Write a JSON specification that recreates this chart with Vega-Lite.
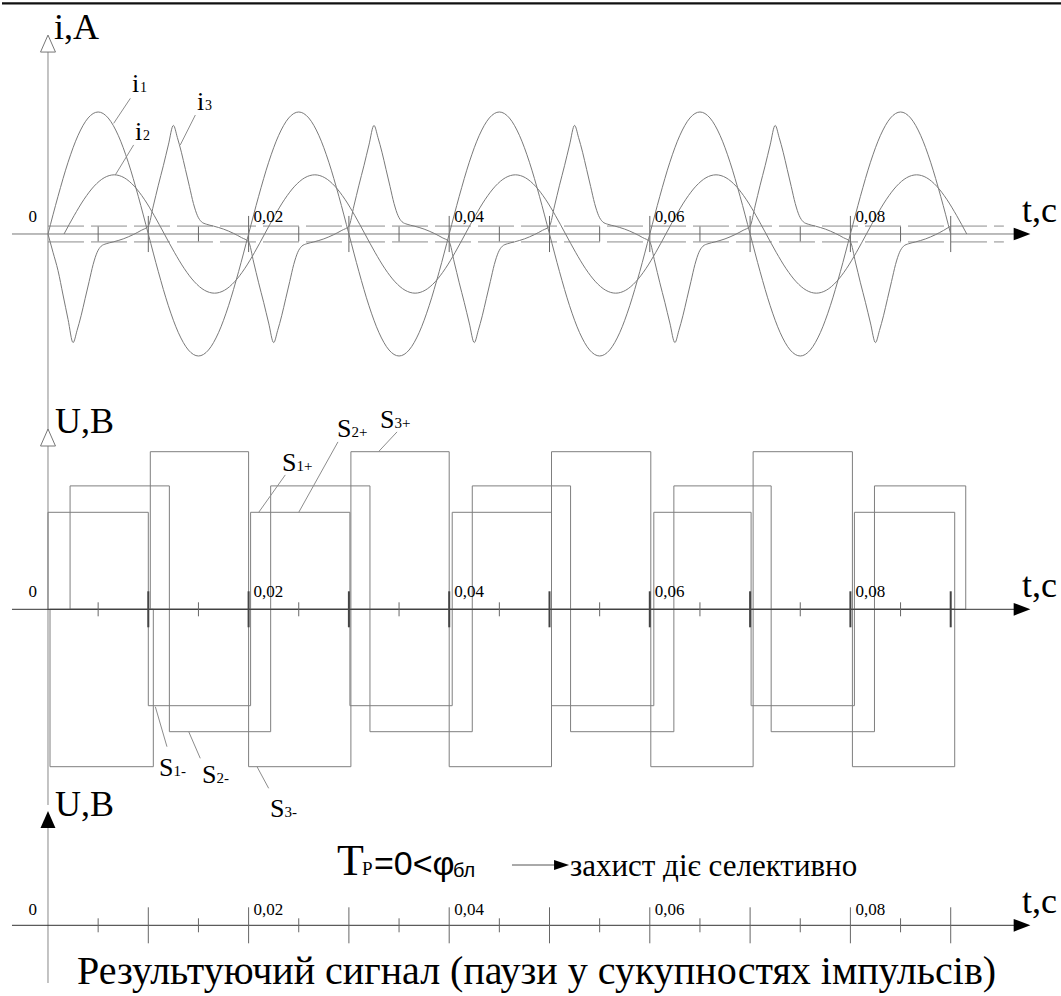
{
  "$schema": "https://vega.github.io/schema/vega-lite/v6.json",
  "padding": 0,
  "spacing": 0,
  "bounds": "flush",
  "background": "white",
  "config": {"view": {"stroke": null}, "axis": {"disable": true}},
  "datasets": {
    "i1": [
      {"t":0,"v":0},{"t":0.001,"v":3.09},{"t":0.002,"v":5.88},{"t":0.003,"v":8.09},{"t":0.004,"v":9.51},{"t":0.005,"v":10},{"t":0.006,"v":9.51},{"t":0.007,"v":8.09},{"t":0.008,"v":5.88},{"t":0.009,"v":3.09},
      {"t":0.01,"v":0},{"t":0.011,"v":-3.09},{"t":0.012,"v":-5.88},{"t":0.013,"v":-8.09},{"t":0.014,"v":-9.51},{"t":0.015,"v":-10},{"t":0.016,"v":-9.51},{"t":0.017,"v":-8.09},{"t":0.018,"v":-5.88},{"t":0.019,"v":-3.09},
      {"t":0.02,"v":0},{"t":0.021,"v":3.09},{"t":0.022,"v":5.88},{"t":0.023,"v":8.09},{"t":0.024,"v":9.51},{"t":0.025,"v":10},{"t":0.026,"v":9.51},{"t":0.027,"v":8.09},{"t":0.028,"v":5.88},{"t":0.029,"v":3.09},
      {"t":0.03,"v":0},{"t":0.031,"v":-3.09},{"t":0.032,"v":-5.88},{"t":0.033,"v":-8.09},{"t":0.034,"v":-9.51},{"t":0.035,"v":-10},{"t":0.036,"v":-9.51},{"t":0.037,"v":-8.09},{"t":0.038,"v":-5.88},{"t":0.039,"v":-3.09},
      {"t":0.04,"v":0},{"t":0.041,"v":3.09},{"t":0.042,"v":5.88},{"t":0.043,"v":8.09},{"t":0.044,"v":9.51},{"t":0.045,"v":10},{"t":0.046,"v":9.51},{"t":0.047,"v":8.09},{"t":0.048,"v":5.88},{"t":0.049,"v":3.09},
      {"t":0.05,"v":0},{"t":0.051,"v":-3.09},{"t":0.052,"v":-5.88},{"t":0.053,"v":-8.09},{"t":0.054,"v":-9.51},{"t":0.055,"v":-10},{"t":0.056,"v":-9.51},{"t":0.057,"v":-8.09},{"t":0.058,"v":-5.88},{"t":0.059,"v":-3.09},
      {"t":0.06,"v":0},{"t":0.061,"v":3.09},{"t":0.062,"v":5.88},{"t":0.063,"v":8.09},{"t":0.064,"v":9.51},{"t":0.065,"v":10},{"t":0.066,"v":9.51},{"t":0.067,"v":8.09},{"t":0.068,"v":5.88},{"t":0.069,"v":3.09},
      {"t":0.07,"v":0},{"t":0.071,"v":-3.09},{"t":0.072,"v":-5.88},{"t":0.073,"v":-8.09},{"t":0.074,"v":-9.51},{"t":0.075,"v":-10},{"t":0.076,"v":-9.51},{"t":0.077,"v":-8.09},{"t":0.078,"v":-5.88},{"t":0.079,"v":-3.09},
      {"t":0.08,"v":0},{"t":0.081,"v":3.09},{"t":0.082,"v":5.88},{"t":0.083,"v":8.09},{"t":0.084,"v":9.51},{"t":0.085,"v":10},{"t":0.086,"v":9.51},{"t":0.087,"v":8.09},{"t":0.088,"v":5.88},{"t":0.089,"v":3.09},
      {"t":0.09,"v":0}
    ],
    "i2": [
      {"t":0.0016,"v":0},{"t":0.0026,"v":1.5},{"t":0.0036,"v":2.85},{"t":0.0046,"v":3.92},{"t":0.0056,"v":4.61},{"t":0.0066,"v":4.85},{"t":0.0076,"v":4.61},{"t":0.0086,"v":3.92},{"t":0.0096,"v":2.85},{"t":0.0106,"v":1.5},
      {"t":0.0116,"v":0},{"t":0.0126,"v":-1.5},{"t":0.0136,"v":-2.85},{"t":0.0146,"v":-3.92},{"t":0.0156,"v":-4.61},{"t":0.0166,"v":-4.85},{"t":0.0176,"v":-4.61},{"t":0.0186,"v":-3.92},{"t":0.0196,"v":-2.85},{"t":0.0206,"v":-1.5},
      {"t":0.0216,"v":0},{"t":0.0226,"v":1.5},{"t":0.0236,"v":2.85},{"t":0.0246,"v":3.92},{"t":0.0256,"v":4.61},{"t":0.0266,"v":4.85},{"t":0.0276,"v":4.61},{"t":0.0286,"v":3.92},{"t":0.0296,"v":2.85},{"t":0.0306,"v":1.5},
      {"t":0.0316,"v":0},{"t":0.0326,"v":-1.5},{"t":0.0336,"v":-2.85},{"t":0.0346,"v":-3.92},{"t":0.0356,"v":-4.61},{"t":0.0366,"v":-4.85},{"t":0.0376,"v":-4.61},{"t":0.0386,"v":-3.92},{"t":0.0396,"v":-2.85},{"t":0.0406,"v":-1.5},
      {"t":0.0416,"v":0},{"t":0.0426,"v":1.5},{"t":0.0436,"v":2.85},{"t":0.0446,"v":3.92},{"t":0.0456,"v":4.61},{"t":0.0466,"v":4.85},{"t":0.0476,"v":4.61},{"t":0.0486,"v":3.92},{"t":0.0496,"v":2.85},{"t":0.0506,"v":1.5},
      {"t":0.0516,"v":0},{"t":0.0526,"v":-1.5},{"t":0.0536,"v":-2.85},{"t":0.0546,"v":-3.92},{"t":0.0556,"v":-4.61},{"t":0.0566,"v":-4.85},{"t":0.0576,"v":-4.61},{"t":0.0586,"v":-3.92},{"t":0.0596,"v":-2.85},{"t":0.0606,"v":-1.5},
      {"t":0.0616,"v":0},{"t":0.0626,"v":1.5},{"t":0.0636,"v":2.85},{"t":0.0646,"v":3.92},{"t":0.0656,"v":4.61},{"t":0.0666,"v":4.85},{"t":0.0676,"v":4.61},{"t":0.0686,"v":3.92},{"t":0.0696,"v":2.85},{"t":0.0706,"v":1.5},
      {"t":0.0716,"v":0},{"t":0.0726,"v":-1.5},{"t":0.0736,"v":-2.85},{"t":0.0746,"v":-3.92},{"t":0.0756,"v":-4.61},{"t":0.0766,"v":-4.85},{"t":0.0776,"v":-4.61},{"t":0.0786,"v":-3.92},{"t":0.0796,"v":-2.85},{"t":0.0806,"v":-1.5},
      {"t":0.0816,"v":0},{"t":0.0826,"v":1.5},{"t":0.0836,"v":2.85},{"t":0.0846,"v":3.92},{"t":0.0856,"v":4.61},{"t":0.0866,"v":4.85},{"t":0.0876,"v":4.61},{"t":0.0886,"v":3.92},{"t":0.0896,"v":2.85},{"t":0.0906,"v":1.5},
      {"t":0.0916,"v":0}
    ],
    "i3": [
      {"t":0,"v":0},{"t":0.0005,"v":-1.5},{"t":0.001,"v":-3.0},{"t":0.0015,"v":-5.0},{"t":0.002,"v":-7.0},{"t":0.0025,"v":-8.9},{"t":0.0029,"v":-7.9},{"t":0.0033,"v":-6.7},{"t":0.0037,"v":-5.3},{"t":0.0041,"v":-3.9},{"t":0.0045,"v":-2.5},{"t":0.0049,"v":-1.5},{"t":0.0053,"v":-1.0},{"t":0.0058,"v":-0.8},{"t":0.0065,"v":-0.65},{"t":0.0075,"v":-0.4},{"t":0.0085,"v":-0.05},{"t":0.0093,"v":0.3},
      {"t":0.01,"v":0.65},{"t":0.0105,"v":2.3},{"t":0.011,"v":4.0},{"t":0.0115,"v":5.6},{"t":0.012,"v":7.3},{"t":0.0125,"v":8.9},{"t":0.0129,"v":7.9},{"t":0.0133,"v":6.7},{"t":0.0137,"v":5.3},{"t":0.0141,"v":3.9},{"t":0.0145,"v":2.5},{"t":0.0149,"v":1.5},{"t":0.0153,"v":1.0},{"t":0.0158,"v":0.8},{"t":0.0165,"v":0.65},{"t":0.0175,"v":0.4},{"t":0.0185,"v":0.05},{"t":0.0193,"v":-0.3},
      {"t":0.02,"v":-0.65},{"t":0.0205,"v":-2.3},{"t":0.021,"v":-4.0},{"t":0.0215,"v":-5.6},{"t":0.022,"v":-7.3},{"t":0.0225,"v":-8.9},{"t":0.0229,"v":-7.9},{"t":0.0233,"v":-6.7},{"t":0.0237,"v":-5.3},{"t":0.0241,"v":-3.9},{"t":0.0245,"v":-2.5},{"t":0.0249,"v":-1.5},{"t":0.0253,"v":-1.0},{"t":0.0258,"v":-0.8},{"t":0.0265,"v":-0.65},{"t":0.0275,"v":-0.4},{"t":0.0285,"v":-0.05},{"t":0.0293,"v":0.3},
      {"t":0.03,"v":0.65},{"t":0.0305,"v":2.3},{"t":0.031,"v":4.0},{"t":0.0315,"v":5.6},{"t":0.032,"v":7.3},{"t":0.0325,"v":8.9},{"t":0.0329,"v":7.9},{"t":0.0333,"v":6.7},{"t":0.0337,"v":5.3},{"t":0.0341,"v":3.9},{"t":0.0345,"v":2.5},{"t":0.0349,"v":1.5},{"t":0.0353,"v":1.0},{"t":0.0358,"v":0.8},{"t":0.0365,"v":0.65},{"t":0.0375,"v":0.4},{"t":0.0385,"v":0.05},{"t":0.0393,"v":-0.3},
      {"t":0.04,"v":-0.65},{"t":0.0405,"v":-2.3},{"t":0.041,"v":-4.0},{"t":0.0415,"v":-5.6},{"t":0.042,"v":-7.3},{"t":0.0425,"v":-8.9},{"t":0.0429,"v":-7.9},{"t":0.0433,"v":-6.7},{"t":0.0437,"v":-5.3},{"t":0.0441,"v":-3.9},{"t":0.0445,"v":-2.5},{"t":0.0449,"v":-1.5},{"t":0.0453,"v":-1.0},{"t":0.0458,"v":-0.8},{"t":0.0465,"v":-0.65},{"t":0.0475,"v":-0.4},{"t":0.0485,"v":-0.05},{"t":0.0493,"v":0.3},
      {"t":0.05,"v":0.65},{"t":0.0505,"v":2.3},{"t":0.051,"v":4.0},{"t":0.0515,"v":5.6},{"t":0.052,"v":7.3},{"t":0.0525,"v":8.9},{"t":0.0529,"v":7.9},{"t":0.0533,"v":6.7},{"t":0.0537,"v":5.3},{"t":0.0541,"v":3.9},{"t":0.0545,"v":2.5},{"t":0.0549,"v":1.5},{"t":0.0553,"v":1.0},{"t":0.0558,"v":0.8},{"t":0.0565,"v":0.65},{"t":0.0575,"v":0.4},{"t":0.0585,"v":0.05},{"t":0.0593,"v":-0.3},
      {"t":0.06,"v":-0.65},{"t":0.0605,"v":-2.3},{"t":0.061,"v":-4.0},{"t":0.0615,"v":-5.6},{"t":0.062,"v":-7.3},{"t":0.0625,"v":-8.9},{"t":0.0629,"v":-7.9},{"t":0.0633,"v":-6.7},{"t":0.0637,"v":-5.3},{"t":0.0641,"v":-3.9},{"t":0.0645,"v":-2.5},{"t":0.0649,"v":-1.5},{"t":0.0653,"v":-1.0},{"t":0.0658,"v":-0.8},{"t":0.0665,"v":-0.65},{"t":0.0675,"v":-0.4},{"t":0.0685,"v":-0.05},{"t":0.0693,"v":0.3},
      {"t":0.07,"v":0.65},{"t":0.0705,"v":2.3},{"t":0.071,"v":4.0},{"t":0.0715,"v":5.6},{"t":0.072,"v":7.3},{"t":0.0725,"v":8.9},{"t":0.0729,"v":7.9},{"t":0.0733,"v":6.7},{"t":0.0737,"v":5.3},{"t":0.0741,"v":3.9},{"t":0.0745,"v":2.5},{"t":0.0749,"v":1.5},{"t":0.0753,"v":1.0},{"t":0.0758,"v":0.8},{"t":0.0765,"v":0.65},{"t":0.0775,"v":0.4},{"t":0.0785,"v":0.05},{"t":0.0793,"v":-0.3},
      {"t":0.08,"v":-0.65},{"t":0.0805,"v":-2.3},{"t":0.081,"v":-4.0},{"t":0.0815,"v":-5.6},{"t":0.082,"v":-7.3},{"t":0.0825,"v":-8.9},{"t":0.0829,"v":-7.9},{"t":0.0833,"v":-6.7},{"t":0.0837,"v":-5.3},{"t":0.0841,"v":-3.9},{"t":0.0845,"v":-2.5},{"t":0.0849,"v":-1.5},{"t":0.0853,"v":-1.0},{"t":0.0858,"v":-0.8},{"t":0.0865,"v":-0.65},{"t":0.0875,"v":-0.4},{"t":0.0885,"v":-0.05},{"t":0.0893,"v":0.3},
      {"t":0.09,"v":0.65}
    ],
    "pulses": [
      {"s":"S1","t":0,"t2":0.01,"v":4.85},{"s":"S1","t":0.01,"t2":0.0202,"v":-4.82},{"s":"S1","t":0.0202,"t2":0.0301,"v":4.85},{"s":"S1","t":0.0301,"t2":0.0403,"v":-4.82},{"s":"S1","t":0.0403,"t2":0.0502,"v":4.85},{"s":"S1","t":0.0502,"t2":0.0604,"v":-4.82},{"s":"S1","t":0.0604,"t2":0.0701,"v":4.85},{"s":"S1","t":0.0701,"t2":0.0804,"v":-4.82},{"s":"S1","t":0.0804,"t2":0.0904,"v":4.85},
      {"s":"S2","t":0.0022,"t2":0.0121,"v":6.17},{"s":"S2","t":0.0121,"t2":0.0222,"v":-6.12},{"s":"S2","t":0.0222,"t2":0.0321,"v":6.17},{"s":"S2","t":0.0321,"t2":0.0423,"v":-6.12},{"s":"S2","t":0.0423,"t2":0.0521,"v":6.17},{"s":"S2","t":0.0521,"t2":0.0624,"v":-6.12},{"s":"S2","t":0.0624,"t2":0.0721,"v":6.17},{"s":"S2","t":0.0721,"t2":0.0824,"v":-6.12},{"s":"S2","t":0.0824,"t2":0.0915,"v":6.17},
      {"s":"S3","t":0.0002,"t2":0.0105,"v":-7.87},{"s":"S3","t":0.0102,"t2":0.02,"v":7.88},{"s":"S3","t":0.02,"t2":0.0302,"v":-7.87},{"s":"S3","t":0.0302,"t2":0.04,"v":7.88},{"s":"S3","t":0.04,"t2":0.0502,"v":-7.87},{"s":"S3","t":0.0502,"t2":0.0601,"v":7.88},{"s":"S3","t":0.0601,"t2":0.0703,"v":-7.87},{"s":"S3","t":0.0703,"t2":0.0802,"v":7.88},{"s":"S3","t":0.0802,"t2":0.0904,"v":-7.87}
    ],
    "ticks": [
      {"t":0.005,"kind":"minor"},{"t":0.01,"kind":"major"},{"t":0.015,"kind":"minor"},{"t":0.02,"kind":"major"},{"t":0.025,"kind":"minor"},{"t":0.03,"kind":"major"},{"t":0.035,"kind":"minor"},{"t":0.04,"kind":"major"},{"t":0.045,"kind":"minor"},
      {"t":0.05,"kind":"major"},{"t":0.055,"kind":"minor"},{"t":0.06,"kind":"major"},{"t":0.065,"kind":"minor"},{"t":0.07,"kind":"major"},{"t":0.075,"kind":"minor"},{"t":0.08,"kind":"major"},{"t":0.085,"kind":"minor"},{"t":0.09,"kind":"major"}
    ],
    "tickText": [
      {"t":0,"txt":"0"},{"t":0.02,"txt":"0,02"},{"t":0.04,"txt":"0,04"},{"t":0.06,"txt":"0,06"},{"t":0.08,"txt":"0,08"}
    ],
    "notes": [
      {"p":1,"r":"axis","t":0.0006,"v":15.96,"txt":"i,A"},
      {"p":1,"r":"axis","t":0.09711,"v":1.0,"txt":"t,c"},
      {"p":1,"r":"name","t":0.00837,"v":11.66,"txt":"i"},
      {"p":1,"r":"sub","t":0.00917,"v":11.66,"txt":"1"},
      {"p":1,"r":"name","t":0.00867,"v":7.7,"txt":"i"},
      {"p":1,"r":"sub","t":0.00947,"v":7.7,"txt":"2"},
      {"p":1,"r":"name","t":0.01486,"v":10.16,"txt":"i"},
      {"p":1,"r":"sub","t":0.01565,"v":10.16,"txt":"3"},
      {"p":2,"r":"axis","t":0.0007,"v":8.83,"txt":"U,B"},
      {"p":2,"r":"axis","t":0.09711,"v":0.63,"txt":"t,c"},
      {"p":2,"r":"name","t":0.02333,"v":6.93,"txt":"S"},
      {"p":2,"r":"sub","t":0.02478,"v":6.93,"txt":"1+"},
      {"p":2,"r":"name","t":0.02881,"v":8.62,"txt":"S"},
      {"p":2,"r":"sub","t":0.03026,"v":8.62,"txt":"2+"},
      {"p":2,"r":"name","t":0.0331,"v":9.07,"txt":"S"},
      {"p":2,"r":"sub","t":0.03455,"v":9.07,"txt":"3+"},
      {"p":2,"r":"name","t":0.01107,"v":-8.34,"txt":"S"},
      {"p":2,"r":"sub","t":0.01252,"v":-8.34,"txt":"1-"},
      {"p":2,"r":"name","t":0.01535,"v":-8.69,"txt":"S"},
      {"p":2,"r":"sub","t":0.0168,"v":-8.69,"txt":"2-"},
      {"p":2,"r":"name","t":0.02213,"v":-10.37,"txt":"S"},
      {"p":2,"r":"sub","t":0.02358,"v":-10.37,"txt":"3-"},
      {"p":3,"r":"axis","t":0.0007,"v":10.93,"txt":"U,B"},
      {"p":3,"r":"axis","t":0.09711,"v":1.26,"txt":"t,c"},
      {"p":3,"r":"T","t":0.02881,"v":5.03,"txt":"T"},
      {"p":3,"r":"Tsub","t":0.03131,"v":5.03,"txt":"Р"},
      {"p":3,"r":"rel","t":0.0325,"v":5.03,"txt":"=0<φ"},
      {"p":3,"r":"relSub","t":0.04038,"v":4.83,"txt":"бл"},
      {"p":3,"r":"phrase","t":0.05204,"v":4.93,"txt":"захист діє селективно"},
      {"p":3,"r":"caption","t":0.00289,"v":-5.85,"txt":"Результуючий сигнал (паузи у сукупностях імпульсів)"}
    ],
    "leaders": [
      {"p":1,"t":0.00821,"v":11.12,"t2":0.00655,"v2":9.07},
      {"p":1,"t":0.00854,"v":7.3,"t2":0.00671,"v2":4.84},
      {"p":1,"t":0.01469,"v":9.75,"t2":0.01319,"v2":7.3},
      {"p":2,"t":0.02366,"v":6.72,"t2":0.02101,"v2":4.85},
      {"p":2,"t":0.02891,"v":8.37,"t2":0.025,"v2":4.85},
      {"p":2,"t":0.0348,"v":8.87,"t2":0.03297,"v2":7.89},
      {"p":2,"t":0.01186,"v":-6.87,"t2":0.0107,"v2":-4.87},
      {"p":2,"t":0.01518,"v":-7.45,"t2":0.01403,"v2":-6.12},
      {"p":2,"t":0.022,"v":-8.95,"t2":0.02084,"v2":-7.87}
    ]
  },
  "vconcat": [
    {
      "width": 1061,
      "height": 400,
      "layer": [
        {"data": {"values": [{}]}, "mark": {"type": "rule", "color": "#111", "strokeWidth": 2.2},
         "encoding": {"x": {"datum": -0.004586, "type": "quantitative", "scale": {"domain": [-0.004586, 0.101196], "nice": false, "zero": false}, "axis": null}, "x2": {"datum": 0.101196}, "y": {"datum": 18.91, "type": "quantitative", "scale": {"domain": [-13.607, 19.18], "nice": false, "zero": false}, "axis": null}}},
        {"data": {"values": [{"lvl": 0.65}, {"lvl": -0.65}]}, "mark": {"type": "rule", "color": "#8c8c8c", "strokeWidth": 1, "strokeDash": [36, 7]},
         "encoding": {"x": {"datum": 0, "type": "quantitative", "scale": {"domain": [-0.004586, 0.101196], "nice": false, "zero": false}, "axis": null}, "x2": {"datum": 0.0953}, "y": {"field": "lvl", "type": "quantitative", "scale": {"domain": [-13.607, 19.18], "nice": false, "zero": false}, "axis": null}}},
        {"data": {"values": [{}]}, "mark": {"type": "rule", "color": "#777", "strokeWidth": 1},
         "encoding": {"x": {"datum": -0.00359, "type": "quantitative", "scale": {"domain": [-0.004586, 0.101196], "nice": false, "zero": false}, "axis": null}, "x2": {"datum": 0.0971}, "y": {"datum": 0, "type": "quantitative", "scale": {"domain": [-13.607, 19.18], "nice": false, "zero": false}, "axis": null}}},
        {"data": {"values": [{}]}, "mark": {"type": "rule", "color": "#888", "strokeWidth": 1},
         "encoding": {"x": {"datum": 0, "type": "quantitative", "scale": {"domain": [-0.004586, 0.101196], "nice": false, "zero": false}, "axis": null}, "y": {"datum": 14.92, "type": "quantitative", "scale": {"domain": [-13.607, 19.18], "nice": false, "zero": false}, "axis": null}, "y2": {"datum": -13.607}}},
        {"data": {"name": "ticks"}, "transform": [{"filter": "datum.kind == 'major'"}], "mark": {"type": "rule", "color": "#666", "strokeWidth": 1},
         "encoding": {"x": {"field": "t", "type": "quantitative", "scale": {"domain": [-0.004586, 0.101196], "nice": false, "zero": false}, "axis": null}, "y": {"datum": 1.48, "type": "quantitative", "scale": {"domain": [-13.607, 19.18], "nice": false, "zero": false}, "axis": null}, "y2": {"datum": -1.48}}},
        {"data": {"name": "ticks"}, "transform": [{"filter": "datum.kind == 'minor'"}], "mark": {"type": "rule", "color": "#666", "strokeWidth": 1},
         "encoding": {"x": {"field": "t", "type": "quantitative", "scale": {"domain": [-0.004586, 0.101196], "nice": false, "zero": false}, "axis": null}, "y": {"datum": 0.61, "type": "quantitative", "scale": {"domain": [-13.607, 19.18], "nice": false, "zero": false}, "axis": null}, "y2": {"datum": -0.61}}},
        {"data": {"name": "i1"}, "mark": {"type": "line", "color": "#7a7a7a", "strokeWidth": 1, "interpolate": "monotone"},
         "encoding": {"x": {"field": "t", "type": "quantitative", "scale": {"domain": [-0.004586, 0.101196], "nice": false, "zero": false}, "axis": null}, "y": {"field": "v", "type": "quantitative", "scale": {"domain": [-13.607, 19.18], "nice": false, "zero": false}, "axis": null}}},
        {"data": {"name": "i2"}, "mark": {"type": "line", "color": "#7a7a7a", "strokeWidth": 1, "interpolate": "monotone"},
         "encoding": {"x": {"field": "t", "type": "quantitative", "scale": {"domain": [-0.004586, 0.101196], "nice": false, "zero": false}, "axis": null}, "y": {"field": "v", "type": "quantitative", "scale": {"domain": [-13.607, 19.18], "nice": false, "zero": false}, "axis": null}}},
        {"data": {"name": "i3"}, "mark": {"type": "line", "color": "#7a7a7a", "strokeWidth": 1, "interpolate": "monotone"},
         "encoding": {"x": {"field": "t", "type": "quantitative", "scale": {"domain": [-0.004586, 0.101196], "nice": false, "zero": false}, "axis": null}, "y": {"field": "v", "type": "quantitative", "scale": {"domain": [-13.607, 19.18], "nice": false, "zero": false}, "axis": null}}},
        {"data": {"name": "leaders"}, "transform": [{"filter": "datum.p == 1"}], "mark": {"type": "rule", "color": "#8c8c8c", "strokeWidth": 1},
         "encoding": {"x": {"field": "t", "type": "quantitative", "scale": {"domain": [-0.004586, 0.101196], "nice": false, "zero": false}, "axis": null}, "x2": {"field": "t2"}, "y": {"field": "v", "type": "quantitative", "scale": {"domain": [-13.607, 19.18], "nice": false, "zero": false}, "axis": null}, "y2": {"field": "v2"}}},
        {"data": {"name": "notes"}, "transform": [{"filter": "datum.p == 1 && datum.r == 'axis'"}], "mark": {"type": "text", "font": "Liberation Serif, Times New Roman, DejaVu Serif, serif", "fontSize": 36, "align": "left", "baseline": "alphabetic", "color": "#000"},
         "encoding": {"x": {"field": "t", "type": "quantitative", "scale": {"domain": [-0.004586, 0.101196], "nice": false, "zero": false}, "axis": null}, "y": {"field": "v", "type": "quantitative", "scale": {"domain": [-13.607, 19.18], "nice": false, "zero": false}, "axis": null}, "text": {"field": "txt"}}},
        {"data": {"name": "notes"}, "transform": [{"filter": "datum.p == 1 && datum.r == 'name'"}], "mark": {"type": "text", "font": "Liberation Serif, Times New Roman, DejaVu Serif, serif", "fontSize": 26, "align": "left", "baseline": "alphabetic", "color": "#000"},
         "encoding": {"x": {"field": "t", "type": "quantitative", "scale": {"domain": [-0.004586, 0.101196], "nice": false, "zero": false}, "axis": null}, "y": {"field": "v", "type": "quantitative", "scale": {"domain": [-13.607, 19.18], "nice": false, "zero": false}, "axis": null}, "text": {"field": "txt"}}},
        {"data": {"name": "notes"}, "transform": [{"filter": "datum.p == 1 && datum.r == 'sub'"}], "mark": {"type": "text", "font": "Liberation Serif, Times New Roman, DejaVu Serif, serif", "fontSize": 14, "align": "left", "baseline": "alphabetic", "color": "#000"},
         "encoding": {"x": {"field": "t", "type": "quantitative", "scale": {"domain": [-0.004586, 0.101196], "nice": false, "zero": false}, "axis": null}, "y": {"field": "v", "type": "quantitative", "scale": {"domain": [-13.607, 19.18], "nice": false, "zero": false}, "axis": null}, "text": {"field": "txt"}}},
        {"data": {"name": "tickText"}, "transform": [{"filter": "datum.t == 0"}], "mark": {"type": "text", "font": "Liberation Serif, Times New Roman, DejaVu Serif, serif", "fontSize": 17, "align": "right", "dx": -11, "baseline": "alphabetic", "color": "#000"},
         "encoding": {"x": {"field": "t", "type": "quantitative", "scale": {"domain": [-0.004586, 0.101196], "nice": false, "zero": false}, "axis": null}, "y": {"datum": 1.02, "type": "quantitative", "scale": {"domain": [-13.607, 19.18], "nice": false, "zero": false}, "axis": null}, "text": {"field": "txt"}}},
        {"data": {"name": "tickText"}, "transform": [{"filter": "datum.t > 0"}], "mark": {"type": "text", "font": "Liberation Serif, Times New Roman, DejaVu Serif, serif", "fontSize": 17, "align": "left", "dx": 5, "baseline": "alphabetic", "color": "#000"},
         "encoding": {"x": {"field": "t", "type": "quantitative", "scale": {"domain": [-0.004586, 0.101196], "nice": false, "zero": false}, "axis": null}, "y": {"datum": 1.02, "type": "quantitative", "scale": {"domain": [-13.607, 19.18], "nice": false, "zero": false}, "axis": null}, "text": {"field": "txt"}}},
        {"data": {"values": [{}]}, "mark": {"type": "point", "shape": "M-1,-0.76L1,0L-1,0.76Z", "size": 279, "filled": true, "color": "#000", "opacity": 1},
         "encoding": {"x": {"datum": 0.09711, "type": "quantitative", "scale": {"domain": [-0.004586, 0.101196], "nice": false, "zero": false}, "axis": null}, "y": {"datum": 0, "type": "quantitative", "scale": {"domain": [-13.607, 19.18], "nice": false, "zero": false}, "axis": null}}},
        {"data": {"values": [{}]}, "mark": {"type": "point", "shape": "M0,-1L0.88,1L-0.88,1Z", "size": 289, "filled": true, "fill": "#fff", "stroke": "#777", "strokeWidth": 1, "opacity": 1},
         "encoding": {"x": {"datum": 0, "type": "quantitative", "scale": {"domain": [-0.004586, 0.101196], "nice": false, "zero": false}, "axis": null}, "y": {"datum": 15.61, "type": "quantitative", "scale": {"domain": [-13.607, 19.18], "nice": false, "zero": false}, "axis": null}}}
      ]
    },
    {
      "width": 1061,
      "height": 405,
      "layer": [
        {"data": {"values": [{}]}, "mark": {"type": "rule", "color": "#888", "strokeWidth": 1},
         "encoding": {"x": {"datum": 0, "type": "quantitative", "scale": {"domain": [-0.004586, 0.101196], "nice": false, "zero": false}, "axis": null}, "y": {"datum": 10.465, "type": "quantitative", "scale": {"domain": [-9.785, 10.465], "nice": false, "zero": false}, "axis": null}, "y2": {"datum": -9.785}}},
        {"data": {"name": "pulses"}, "mark": {"type": "rect", "fill": "#fff", "fillOpacity": 0, "stroke": "#7f7f7f", "strokeWidth": 1},
         "encoding": {"x": {"field": "t", "type": "quantitative", "scale": {"domain": [-0.004586, 0.101196], "nice": false, "zero": false}, "axis": null}, "x2": {"field": "t2"}, "y": {"field": "v", "type": "quantitative", "scale": {"domain": [-9.785, 10.465], "nice": false, "zero": false}, "axis": null}, "y2": {"datum": 0}}},
        {"data": {"values": [{}]}, "mark": {"type": "rule", "color": "#333", "strokeWidth": 1},
         "encoding": {"x": {"datum": -0.00359, "type": "quantitative", "scale": {"domain": [-0.004586, 0.101196], "nice": false, "zero": false}, "axis": null}, "x2": {"datum": 0.0971}, "y": {"datum": 0, "type": "quantitative", "scale": {"domain": [-9.785, 10.465], "nice": false, "zero": false}, "axis": null}}},
        {"data": {"name": "ticks"}, "transform": [{"filter": "datum.kind == 'major'"}], "mark": {"type": "rule", "color": "#444", "strokeWidth": 2},
         "encoding": {"x": {"field": "t", "type": "quantitative", "scale": {"domain": [-0.004586, 0.101196], "nice": false, "zero": false}, "axis": null}, "y": {"datum": 0.9, "type": "quantitative", "scale": {"domain": [-9.785, 10.465], "nice": false, "zero": false}, "axis": null}, "y2": {"datum": -0.9}}},
        {"data": {"name": "ticks"}, "transform": [{"filter": "datum.kind == 'minor'"}], "mark": {"type": "rule", "color": "#666", "strokeWidth": 1},
         "encoding": {"x": {"field": "t", "type": "quantitative", "scale": {"domain": [-0.004586, 0.101196], "nice": false, "zero": false}, "axis": null}, "y": {"datum": 0.35, "type": "quantitative", "scale": {"domain": [-9.785, 10.465], "nice": false, "zero": false}, "axis": null}, "y2": {"datum": -0.35}}},
        {"data": {"name": "leaders"}, "transform": [{"filter": "datum.p == 2"}], "mark": {"type": "rule", "color": "#8c8c8c", "strokeWidth": 1},
         "encoding": {"x": {"field": "t", "type": "quantitative", "scale": {"domain": [-0.004586, 0.101196], "nice": false, "zero": false}, "axis": null}, "x2": {"field": "t2"}, "y": {"field": "v", "type": "quantitative", "scale": {"domain": [-9.785, 10.465], "nice": false, "zero": false}, "axis": null}, "y2": {"field": "v2"}}},
        {"data": {"name": "notes"}, "transform": [{"filter": "datum.p == 2 && datum.r == 'axis'"}], "mark": {"type": "text", "font": "Liberation Serif, Times New Roman, DejaVu Serif, serif", "fontSize": 36, "align": "left", "baseline": "alphabetic", "color": "#000"},
         "encoding": {"x": {"field": "t", "type": "quantitative", "scale": {"domain": [-0.004586, 0.101196], "nice": false, "zero": false}, "axis": null}, "y": {"field": "v", "type": "quantitative", "scale": {"domain": [-9.785, 10.465], "nice": false, "zero": false}, "axis": null}, "text": {"field": "txt"}}},
        {"data": {"name": "notes"}, "transform": [{"filter": "datum.p == 2 && datum.r == 'name'"}], "mark": {"type": "text", "font": "Liberation Serif, Times New Roman, DejaVu Serif, serif", "fontSize": 26, "align": "left", "baseline": "alphabetic", "color": "#000"},
         "encoding": {"x": {"field": "t", "type": "quantitative", "scale": {"domain": [-0.004586, 0.101196], "nice": false, "zero": false}, "axis": null}, "y": {"field": "v", "type": "quantitative", "scale": {"domain": [-9.785, 10.465], "nice": false, "zero": false}, "axis": null}, "text": {"field": "txt"}}},
        {"data": {"name": "notes"}, "transform": [{"filter": "datum.p == 2 && datum.r == 'sub'"}], "mark": {"type": "text", "font": "Liberation Serif, Times New Roman, DejaVu Serif, serif", "fontSize": 15, "align": "left", "baseline": "alphabetic", "color": "#000"},
         "encoding": {"x": {"field": "t", "type": "quantitative", "scale": {"domain": [-0.004586, 0.101196], "nice": false, "zero": false}, "axis": null}, "y": {"field": "v", "type": "quantitative", "scale": {"domain": [-9.785, 10.465], "nice": false, "zero": false}, "axis": null}, "text": {"field": "txt"}}},
        {"data": {"name": "tickText"}, "transform": [{"filter": "datum.t == 0"}], "mark": {"type": "text", "font": "Liberation Serif, Times New Roman, DejaVu Serif, serif", "fontSize": 17, "align": "right", "dx": -11, "baseline": "alphabetic", "color": "#000"},
         "encoding": {"x": {"field": "t", "type": "quantitative", "scale": {"domain": [-0.004586, 0.101196], "nice": false, "zero": false}, "axis": null}, "y": {"datum": 0.6, "type": "quantitative", "scale": {"domain": [-9.785, 10.465], "nice": false, "zero": false}, "axis": null}, "text": {"field": "txt"}}},
        {"data": {"name": "tickText"}, "transform": [{"filter": "datum.t > 0"}], "mark": {"type": "text", "font": "Liberation Serif, Times New Roman, DejaVu Serif, serif", "fontSize": 17, "align": "left", "dx": 5, "baseline": "alphabetic", "color": "#000"},
         "encoding": {"x": {"field": "t", "type": "quantitative", "scale": {"domain": [-0.004586, 0.101196], "nice": false, "zero": false}, "axis": null}, "y": {"datum": 0.6, "type": "quantitative", "scale": {"domain": [-9.785, 10.465], "nice": false, "zero": false}, "axis": null}, "text": {"field": "txt"}}},
        {"data": {"values": [{}]}, "mark": {"type": "point", "shape": "M-1,-0.76L1,0L-1,0.76Z", "size": 279, "filled": true, "color": "#000", "opacity": 1},
         "encoding": {"x": {"datum": 0.09711, "type": "quantitative", "scale": {"domain": [-0.004586, 0.101196], "nice": false, "zero": false}, "axis": null}, "y": {"datum": 0, "type": "quantitative", "scale": {"domain": [-9.785, 10.465], "nice": false, "zero": false}, "axis": null}}},
        {"data": {"values": [{}]}, "mark": {"type": "point", "shape": "M0,-1L0.88,1L-0.88,1Z", "size": 289, "filled": true, "fill": "#fff", "stroke": "#777", "strokeWidth": 1, "opacity": 1},
         "encoding": {"x": {"datum": 0, "type": "quantitative", "scale": {"domain": [-0.004586, 0.101196], "nice": false, "zero": false}, "axis": null}, "y": {"datum": 8.59, "type": "quantitative", "scale": {"domain": [-9.785, 10.465], "nice": false, "zero": false}, "axis": null}}}
      ]
    },
    {
      "width": 1061,
      "height": 191,
      "layer": [
        {"data": {"values": [{}]}, "mark": {"type": "rule", "color": "#888", "strokeWidth": 1},
         "encoding": {"x": {"datum": 0, "type": "quantitative", "scale": {"domain": [-0.004586, 0.101196], "nice": false, "zero": false}, "axis": null}, "y": {"datum": 10.0, "type": "quantitative", "scale": {"domain": [-7.07, 12.03], "nice": false, "zero": false}, "axis": null}, "y2": {"datum": -5.77}}},
        {"data": {"values": [{}]}, "mark": {"type": "rule", "color": "#333", "strokeWidth": 1},
         "encoding": {"x": {"datum": -0.00359, "type": "quantitative", "scale": {"domain": [-0.004586, 0.101196], "nice": false, "zero": false}, "axis": null}, "x2": {"datum": 0.0971}, "y": {"datum": 0, "type": "quantitative", "scale": {"domain": [-7.07, 12.03], "nice": false, "zero": false}, "axis": null}}},
        {"data": {"name": "ticks"}, "transform": [{"filter": "datum.kind == 'major'"}], "mark": {"type": "rule", "color": "#666", "strokeWidth": 1},
         "encoding": {"x": {"field": "t", "type": "quantitative", "scale": {"domain": [-0.004586, 0.101196], "nice": false, "zero": false}, "axis": null}, "y": {"datum": 1.8, "type": "quantitative", "scale": {"domain": [-7.07, 12.03], "nice": false, "zero": false}, "axis": null}, "y2": {"datum": -1.8}}},
        {"data": {"name": "ticks"}, "transform": [{"filter": "datum.kind == 'minor'"}], "mark": {"type": "rule", "color": "#666", "strokeWidth": 1},
         "encoding": {"x": {"field": "t", "type": "quantitative", "scale": {"domain": [-0.004586, 0.101196], "nice": false, "zero": false}, "axis": null}, "y": {"datum": 0.7, "type": "quantitative", "scale": {"domain": [-7.07, 12.03], "nice": false, "zero": false}, "axis": null}, "y2": {"datum": -0.7}}},
        {"data": {"name": "notes"}, "transform": [{"filter": "datum.p == 3 && datum.r == 'axis'"}], "mark": {"type": "text", "font": "Liberation Serif, Times New Roman, DejaVu Serif, serif", "fontSize": 36, "align": "left", "baseline": "alphabetic", "color": "#000"},
         "encoding": {"x": {"field": "t", "type": "quantitative", "scale": {"domain": [-0.004586, 0.101196], "nice": false, "zero": false}, "axis": null}, "y": {"field": "v", "type": "quantitative", "scale": {"domain": [-7.07, 12.03], "nice": false, "zero": false}, "axis": null}, "text": {"field": "txt"}}},
        {"data": {"name": "notes"}, "transform": [{"filter": "datum.r == 'T'"}], "mark": {"type": "text", "font": "Liberation Serif, Times New Roman, DejaVu Serif, serif", "fontSize": 44, "align": "left", "baseline": "alphabetic", "color": "#000"},
         "encoding": {"x": {"field": "t", "type": "quantitative", "scale": {"domain": [-0.004586, 0.101196], "nice": false, "zero": false}, "axis": null}, "y": {"field": "v", "type": "quantitative", "scale": {"domain": [-7.07, 12.03], "nice": false, "zero": false}, "axis": null}, "text": {"field": "txt"}}},
        {"data": {"name": "notes"}, "transform": [{"filter": "datum.r == 'Tsub'"}], "mark": {"type": "text", "font": "Liberation Serif, Times New Roman, DejaVu Serif, serif", "fontSize": 19, "align": "left", "baseline": "alphabetic", "color": "#000"},
         "encoding": {"x": {"field": "t", "type": "quantitative", "scale": {"domain": [-0.004586, 0.101196], "nice": false, "zero": false}, "axis": null}, "y": {"field": "v", "type": "quantitative", "scale": {"domain": [-7.07, 12.03], "nice": false, "zero": false}, "axis": null}, "text": {"field": "txt"}}},
        {"data": {"name": "notes"}, "transform": [{"filter": "datum.r == 'rel'"}], "mark": {"type": "text", "font": "Liberation Sans, Arial, DejaVu Sans, sans-serif", "fontSize": 34, "align": "left", "baseline": "alphabetic", "color": "#000"},
         "encoding": {"x": {"field": "t", "type": "quantitative", "scale": {"domain": [-0.004586, 0.101196], "nice": false, "zero": false}, "axis": null}, "y": {"field": "v", "type": "quantitative", "scale": {"domain": [-7.07, 12.03], "nice": false, "zero": false}, "axis": null}, "text": {"field": "txt"}}},
        {"data": {"name": "notes"}, "transform": [{"filter": "datum.r == 'relSub'"}], "mark": {"type": "text", "font": "Liberation Sans, Arial, DejaVu Sans, sans-serif", "fontSize": 20, "align": "left", "baseline": "alphabetic", "color": "#000"},
         "encoding": {"x": {"field": "t", "type": "quantitative", "scale": {"domain": [-0.004586, 0.101196], "nice": false, "zero": false}, "axis": null}, "y": {"field": "v", "type": "quantitative", "scale": {"domain": [-7.07, 12.03], "nice": false, "zero": false}, "axis": null}, "text": {"field": "txt"}}},
        {"data": {"name": "notes"}, "transform": [{"filter": "datum.r == 'phrase'"}], "mark": {"type": "text", "font": "Liberation Serif, Times New Roman, DejaVu Serif, serif", "fontSize": 31, "align": "left", "baseline": "alphabetic", "color": "#000"},
         "encoding": {"x": {"field": "t", "type": "quantitative", "scale": {"domain": [-0.004586, 0.101196], "nice": false, "zero": false}, "axis": null}, "y": {"field": "v", "type": "quantitative", "scale": {"domain": [-7.07, 12.03], "nice": false, "zero": false}, "axis": null}, "text": {"field": "txt"}}},
        {"data": {"name": "notes"}, "transform": [{"filter": "datum.r == 'caption'"}], "mark": {"type": "text", "font": "Liberation Serif, Times New Roman, DejaVu Serif, serif", "fontSize": 40, "align": "left", "baseline": "alphabetic", "color": "#000"},
         "encoding": {"x": {"field": "t", "type": "quantitative", "scale": {"domain": [-0.004586, 0.101196], "nice": false, "zero": false}, "axis": null}, "y": {"field": "v", "type": "quantitative", "scale": {"domain": [-7.07, 12.03], "nice": false, "zero": false}, "axis": null}, "text": {"field": "txt"}}},
        {"data": {"values": [{}]}, "mark": {"type": "rule", "color": "#555", "strokeWidth": 1},
         "encoding": {"x": {"datum": 0.04626, "type": "quantitative", "scale": {"domain": [-0.004586, 0.101196], "nice": false, "zero": false}, "axis": null}, "x2": {"datum": 0.0509}, "y": {"datum": 6.03, "type": "quantitative", "scale": {"domain": [-7.07, 12.03], "nice": false, "zero": false}, "axis": null}}},
        {"data": {"values": [{}]}, "mark": {"type": "point", "shape": "M-1,-0.67L1,0L-1,0.67Z", "size": 225, "filled": true, "color": "#000", "opacity": 1},
         "encoding": {"x": {"datum": 0.0512, "type": "quantitative", "scale": {"domain": [-0.004586, 0.101196], "nice": false, "zero": false}, "axis": null}, "y": {"datum": 6.03, "type": "quantitative", "scale": {"domain": [-7.07, 12.03], "nice": false, "zero": false}, "axis": null}}},
        {"data": {"name": "tickText"}, "transform": [{"filter": "datum.t == 0"}], "mark": {"type": "text", "font": "Liberation Serif, Times New Roman, DejaVu Serif, serif", "fontSize": 17, "align": "right", "dx": -11, "baseline": "alphabetic", "color": "#000"},
         "encoding": {"x": {"field": "t", "type": "quantitative", "scale": {"domain": [-0.004586, 0.101196], "nice": false, "zero": false}, "axis": null}, "y": {"datum": 1.03, "type": "quantitative", "scale": {"domain": [-7.07, 12.03], "nice": false, "zero": false}, "axis": null}, "text": {"field": "txt"}}},
        {"data": {"name": "tickText"}, "transform": [{"filter": "datum.t > 0"}], "mark": {"type": "text", "font": "Liberation Serif, Times New Roman, DejaVu Serif, serif", "fontSize": 17, "align": "left", "dx": 5, "baseline": "alphabetic", "color": "#000"},
         "encoding": {"x": {"field": "t", "type": "quantitative", "scale": {"domain": [-0.004586, 0.101196], "nice": false, "zero": false}, "axis": null}, "y": {"datum": 1.03, "type": "quantitative", "scale": {"domain": [-7.07, 12.03], "nice": false, "zero": false}, "axis": null}, "text": {"field": "txt"}}},
        {"data": {"values": [{}]}, "mark": {"type": "point", "shape": "M-1,-0.76L1,0L-1,0.76Z", "size": 279, "filled": true, "color": "#000", "opacity": 1},
         "encoding": {"x": {"datum": 0.09711, "type": "quantitative", "scale": {"domain": [-0.004586, 0.101196], "nice": false, "zero": false}, "axis": null}, "y": {"datum": 0, "type": "quantitative", "scale": {"domain": [-7.07, 12.03], "nice": false, "zero": false}, "axis": null}}},
        {"data": {"values": [{}]}, "mark": {"type": "point", "shape": "M0,-1L0.88,1L-0.88,1Z", "size": 289, "filled": true, "color": "#000", "opacity": 1},
         "encoding": {"x": {"datum": 0, "type": "quantitative", "scale": {"domain": [-0.004586, 0.101196], "nice": false, "zero": false}, "axis": null}, "y": {"datum": 10.58, "type": "quantitative", "scale": {"domain": [-7.07, 12.03], "nice": false, "zero": false}, "axis": null}}}
      ]
    }
  ]
}
